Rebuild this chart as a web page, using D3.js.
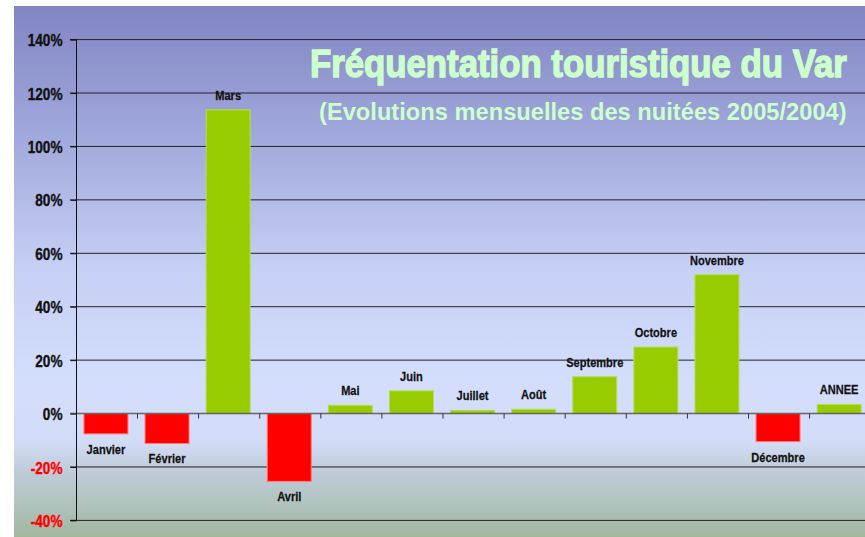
<!DOCTYPE html>
<html><head><meta charset="utf-8">
<script src="https://cdn.jsdelivr.net/npm/d3@7"></script>
<style>
html,body{margin:0;padding:0;background:#fff;}
svg{display:block;}
</style></head>
<body>
<svg id="chart" width="865" height="537"></svg>
<script>
const categories = ["Janvier","Février","Mars","Avril","Mai","Juin","Juillet","Août","Septembre","Octobre","Novembre","Décembre","ANNEE"];
const values = [-7.6, -11.2, 113.7, -25.4, 3.1, 8.5, 1.2, 1.6, 13.8, 24.9, 52.0, -10.5, 3.4];
const yTicks = [-40, -20, 0, 20, 40, 60, 80, 100, 120, 140];
const title = "Fréquentation touristique du Var";
const subtitle = "(Evolutions mensuelles des nuitées 2005/2004)";

const W = 865, H = 537;
const svg = d3.select("#chart");
const sans = "'Liberation Sans',Arial,sans-serif";

// background gradient
const defs = svg.append("defs");
const grad = defs.append("linearGradient").attr("id","bg").attr("x1",0).attr("y1",0).attr("x2",0).attr("y2",1);
[[0,"#8185c3"],[0.25,"#a2a9dc"],[0.5,"#c7d0f5"],[0.72,"#d4defc"],[0.82,"#d2dcf7"],[0.87,"#c2cddc"],[0.94,"#b0c2bd"],[1,"#a2b69f"]]
  .forEach(([o,c]) => grad.append("stop").attr("offset",o).attr("stop-color",c));
svg.append("rect").attr("x",14).attr("y",6).attr("width",W-14).attr("height",H-6).attr("fill","url(#bg)");

const y = d3.scaleLinear().domain([-40,140]).range([520.4, 39.6]);
const x = d3.scaleBand().domain(categories).range([76.4, 870.7]).paddingInner(0.28).paddingOuter(0.14);
const step = x.step();

// fit a text to a target width by horizontal scaling
function fitWidth(node, tx, ty, target) {
  const w = node.getComputedTextLength();
  node.setAttribute("transform", `translate(${tx},${ty}) scale(${target / w},1)`);
}

// gridlines
svg.append("g").selectAll("line").data(yTicks.filter(t=>t!==0)).join("line")
  .attr("x1",70).attr("x2",W).attr("y1",d=>y(d)).attr("y2",d=>y(d))
  .attr("stroke","#222").attr("stroke-width",1);

// title
const t1 = svg.append("text").attr("x",0).attr("y",0)
  .attr("font-family",sans).attr("font-weight","bold").attr("font-size",38)
  .attr("fill","#ccffcc").attr("stroke","#ccffcc").attr("stroke-width",1.4).text(title);
fitWidth(t1.node(), 310, 76.5, 537);
const t2 = svg.append("text").attr("x",0).attr("y",0)
  .attr("font-family",sans).attr("font-weight","bold").attr("font-size",23.5)
  .attr("fill","#ccffcc").text(subtitle);
fitWidth(t2.node(), 319, 120, 528);

// bars
svg.append("g").selectAll("rect").data(categories).join("rect")
  .attr("x",d=>x(d)-1).attr("width",x.bandwidth())
  .attr("y",(d,i)=>y(Math.max(0,values[i])))
  .attr("height",(d,i)=>Math.abs(y(values[i])-y(0)))
  .attr("fill",(d,i)=>values[i]>=0?"#99cc00":"#ff0000")
  .attr("stroke",(d,i)=>values[i]>=0?"#b5dc5a":"#ff7a7a").attr("stroke-width",1);

// zero line and ticks
svg.append("line").attr("x1",70).attr("x2",W).attr("y1",y(0)).attr("y2",y(0)).attr("stroke","#666").attr("stroke-width",1.5);
svg.append("g").selectAll("line").data(categories.slice(1)).join("line")
  .attr("x1",d=>x(d)-step*0.14).attr("x2",d=>x(d)-step*0.14)
  .attr("y1",y(0)).attr("y2",y(0)+5).attr("stroke","#333").attr("stroke-width",1);

// y axis
const yAxis = d3.axisLeft(y).tickValues(yTicks).tickSize(6).tickFormat(d=>d+"%");
const ga = svg.append("g").attr("transform","translate(76.5,0)").call(yAxis);
ga.select(".domain").attr("stroke","#111").attr("d",`M-6,${y(140)}H0V${y(-40)}H-6`);
ga.selectAll(".tick line").attr("stroke","#111");
ga.selectAll(".tick text").attr("x",0).attr("dy","0.36em")
  .attr("transform","translate(-14,0) scale(0.8,1)")
  .attr("font-family",sans).attr("font-weight","bold").attr("font-size",17)
  .attr("fill",d=>d<0?"#ff0000":"#111")
  .attr("stroke",d=>d<0?"#ff0000":"#111").attr("stroke-width",0.4);

// bar labels
svg.append("g").selectAll("text").data(categories).join("text")
  .attr("x",0).attr("y",0)
  .attr("transform",(d,i)=>`translate(${x(d)-1+x.bandwidth()/2},${values[i]>=0? y(values[i])-10 : y(values[i])+20}) scale(0.82,1)`)
  .attr("text-anchor","middle")
  .attr("font-family",sans).attr("font-weight","bold").attr("font-size",13.5)
  .attr("fill","#111").attr("stroke","#111").attr("stroke-width",0.25).text(d=>d);
</script>
</body></html>
